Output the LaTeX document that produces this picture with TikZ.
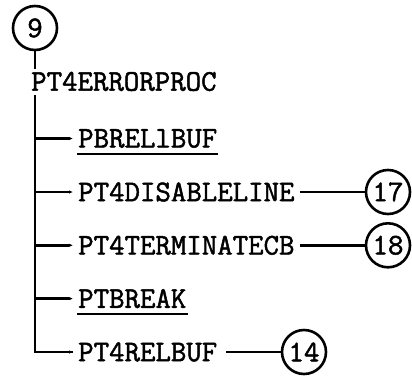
\documentclass[tikz,border=0pt]{standalone}
\usepackage{graphicx}
\usepackage{fontspec}
\newfontfamily\tw{Latin Modern Mono}[FakeBold=1.6]
\usetikzlibrary{arrows.meta,calc}
\newcommand\typ[1]{{\fontsize{30}{34}\selectfont\tw #1}}
\begin{document}
\begin{tikzpicture}[x=1pt,y=-1pt,line width=2.4pt,
  lbl/.style={inner xsep=4pt,inner ysep=0pt,anchor=west},
  num/.style={circle,draw,line width=2.6pt,minimum size=44pt,inner sep=0pt},
  br/.style={-{Latex[length=4pt,width=3.5pt]}},
  ul/.style={line width=1.8pt}]
\useasboundingbox (0,0) rectangle (412,381);
\node[num] (c9) at (35,28) {\typ{9}};
\node[lbl,inner xsep=0pt] (root) at (30,81.5) {\typ{PT4ERRORPROC}};
\coordinate (trunktop) at (35,95);
\node[lbl] (b1) at (73,138.5) {\typ{PBRELlBUF}};
\node[lbl] (b2) at (73,192) {\typ{PT4DISABLELINE}};
\node[lbl] (b3) at (73,245.3) {\typ{PT4TERMINATECB}};
\node[lbl] (b4) at (73,298.6) {\typ{PTBREAK}};
\node[lbl] (b5) at (73,352) {\typ{PT4RELBUF}};
\node[num] (c17) at (388,192) {\typ{17}};
\node[num] (c18) at (388,245.3) {\typ{18}};
\node[num] (c14) at (304,352) {\typ{14}};
\draw[shorten >=2pt] (c9.south) -- (c9.south |- root.north);
\draw (trunktop) |- (b5.west);
\draw[br] (trunktop |- b1.west) -- (b1.west);
\draw[br] (trunktop |- b2.west) -- (b2.west);
\draw[br] (trunktop |- b3.west) -- (b3.west);
\draw[br] (trunktop |- b4.west) -- (b4.west);
\draw[br] ($(b5.west)+(-6,0)$) -- (b5.west);
\draw (b2.east) -- (c17);
\draw (b3.east) -- (c18);
\draw (b5.east) ++(4,0) -- (c14);
\draw[ul] ($(b1.south west)+(4,5)$) -- ($(b1.south east)+(-4,5)$);
\draw[ul] ($(b4.south west)+(4,5)$) -- ($(b4.south east)+(-4,5)$);
\end{tikzpicture}
\end{document}
